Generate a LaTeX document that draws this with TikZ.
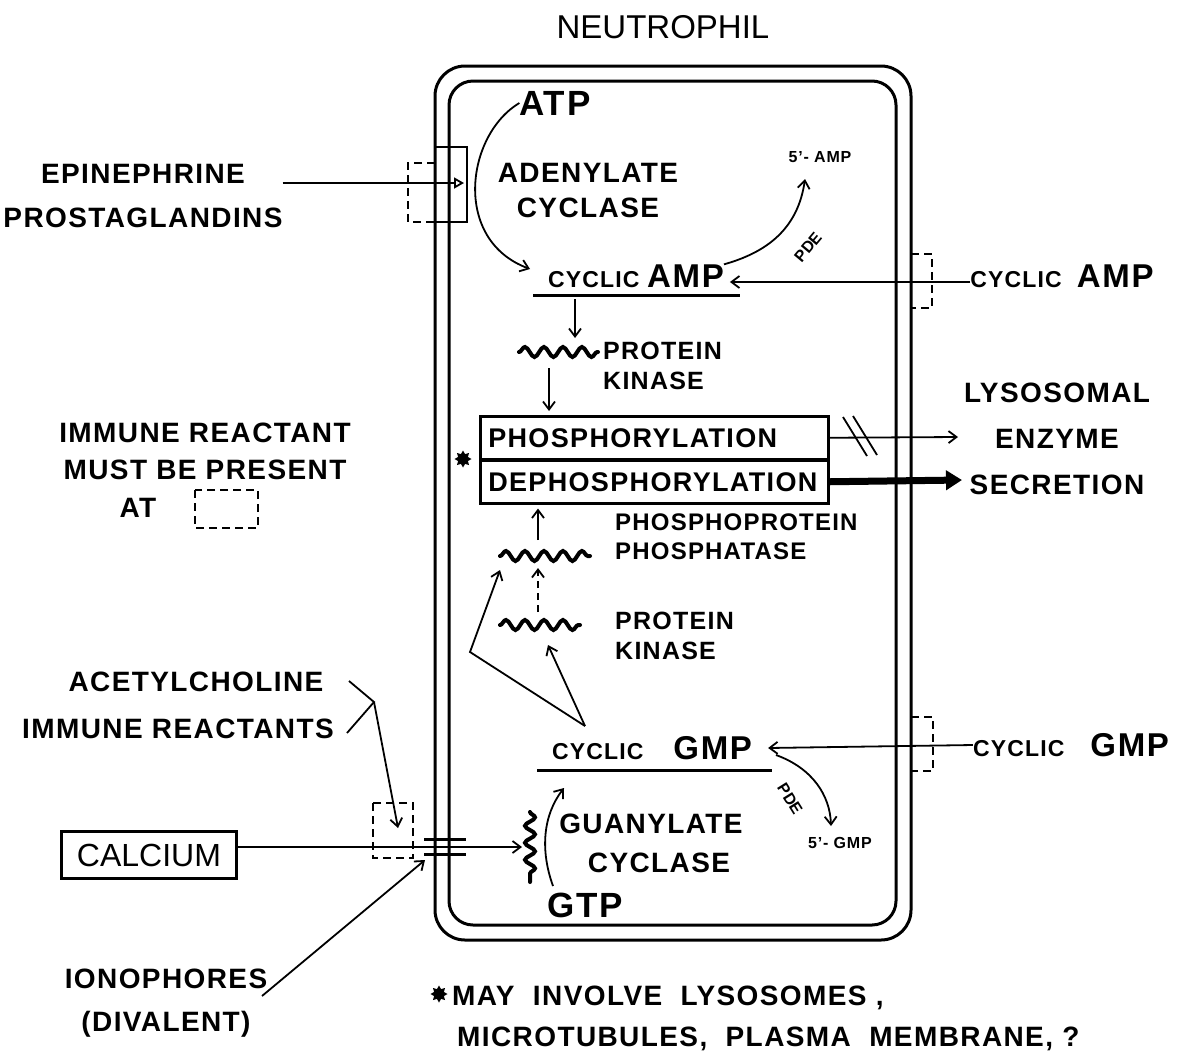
\documentclass[tikz,border=0pt]{standalone}
\usepackage{fontspec}
\setmainfont{Liberation Sans}[LetterSpace=5]
\newfontfamily\plainfont{Liberation Sans}
\usetikzlibrary{positioning,arrows.meta,decorations.pathmorphing,shapes.geometric}

\begin{document}
\begin{tikzpicture}[
    x=1pt, y=-1pt,
    >={Straight Barb[length=8pt,width=12pt]},
    lbl/.style={font=\bfseries\fontsize{28}{44}\selectfont, inner sep=0pt, align=center},
    lblmid/.style={font=\bfseries\fontsize{25}{30}\selectfont, inner sep=0pt, align=left},
    lblbig/.style={font=\bfseries\fontsize{35}{40}\selectfont, inner sep=0pt},
    lbltiny/.style={font=\bfseries\fontsize{16}{18}\selectfont, inner sep=0pt},
    boxrow/.style={draw, line width=2.5pt, minimum width=348pt, minimum height=43pt,
        text width=332pt, inner xsep=8pt, align=left,
        font=\bfseries\fontsize{27}{30}\selectfont},
    memb/.style={line width=3pt},
    conn/.style={line width=1.8pt, ->},
    site/.style={line width=2.5pt, dash pattern=on 8pt off 5pt},
    wave/.style={line width=4pt, line cap=round, decorate,
        decoration={snake, segment length=19pt, amplitude=5pt}},
    dotmark/.style={star, star points=8, star point ratio=1.6, fill,
        inner sep=0pt, minimum size=17pt}
]
\useasboundingbox (0,0) rectangle (1185,1053);

% cell membrane
\draw[memb, rounded corners=30pt] (435,66) rectangle (911,940);
\draw[memb, rounded corners=24pt] (449,81) rectangle (896,925);
\node[font=\plainfont\fontsize{33}{40}\selectfont, inner sep=0pt] (title) at (663,27) {NEUTROPHIL};

% receptor, adenylate cyclase
\node[lbl] (epi) at (143,196) {EPINEPHRINE\\PROSTAGLANDINS};
\draw[line width=2.5pt] (435,147) rectangle (467,222);
\draw[site] (435,163) -- (408,163) -- (408,222) -- (435,222);
\coordinate (rec) at (464,183);
\draw[line width=1.8pt, -{Triangle[open, length=10pt, width=11pt]}] (epi.east |- rec) -- (rec);

\node[lblbig] (atp) at (555,103) {ATP};
\node[lbl, font=\bfseries\fontsize{28}{35}\selectfont] (adcyc) at (588,190) {ADENYLATE\\CYCLASE};
\node[inner sep=0pt] (camp) at (636,276)
    {\bfseries\fontsize{23}{28}\selectfont CYCLIC\ \fontsize{33}{40}\selectfont AMP};
\draw[line width=3pt] (533,295) -- (740,295);
\coordinate (campin) at (530,269);
\draw[conn] (atp.west) .. controls (466,135) and (452,240) .. (campin);

\node[lbltiny] (amp5) at (820,157) {5'- AMP};
\coordinate (pdeA) at (805,179);
\draw[conn] (camp.north east) .. controls (768,252) and (798,228) .. (pdeA);
\node[font=\plainfont\bfseries\fontsize{16}{18}\selectfont, inner sep=0pt, rotate=50] (pdeAl) at (808,247) {PDE};

\node[inner sep=0pt] (campout) at (1062,276)
    {\bfseries\fontsize{23}{28}\selectfont CYCLIC\ \ \fontsize{33}{40}\selectfont AMP};
\draw[site] (911,254) -- (932,254) -- (932,308) -- (911,308);
\draw[conn] ([yshift=-6pt]campout.west) -- ([xshift=6pt,yshift=-6pt]camp.east);

% protein kinase
\coordinate (pk1a) at (519,352);
\coordinate (pk1b) at (598,352);
\draw[wave] (pk1a) -- (pk1b);
\node[lblmid, anchor=west] (pk1) at (603,366) {PROTEIN\\KINASE};
\coordinate (pk1top) at (575,299);
\coordinate (pk1in) at (575,338);
\draw[conn] (pk1top) -- (pk1in);
\coordinate (pk1out) at (549,368);

% phosphorylation
\node[boxrow, anchor=north west] (phos) at (479,415) {PHOSPHORYLATION};
\node[boxrow, anchor=north west] (dephos) at (479,459) {DEPHOSPHORYLATION};
\node[dotmark] (star1) at (463,459) {};
\draw[conn, shorten >=4pt] (pk1out) -- (pk1out |- phos.north);

\node[lbl, font=\bfseries\fontsize{28}{46}\selectfont] (lyso) at (1057,439) {LYSOSOMAL\\ENZYME\\SECRETION};
\coordinate (sec1) at (958,437);
\coordinate (sec2) at (962,480);
\draw[conn] (phos.east) -- (sec1);
\draw[line width=1.8pt] (843,417) -- (867,456) (853,416) -- (877,455);
\draw[line width=7pt, -{Triangle[length=16pt,width=19pt]}] (dephos.east) -- (sec2);

% phosphatase
\coordinate (ppa) at (500,556);
\coordinate (ppb) at (590,556);
\draw[wave] (ppa) -- (ppb);
\node[lblmid, font=\bfseries\fontsize{24}{29}\selectfont, anchor=west] (ppase) at (615,537) {PHOSPHOPROTEIN\\PHOSPHATASE};
\coordinate (ppup) at (538,540);
\draw[conn, shorten >=4pt] (ppup) -- (ppup |- dephos.south);

% second kinase
\coordinate (pk2a) at (500,625);
\coordinate (pk2b) at (580,625);
\draw[wave] (pk2a) -- (pk2b);
\node[lblmid, anchor=west] (pk2) at (615,636) {PROTEIN\\KINASE};
\coordinate (pk2up) at (538,612);
\coordinate (ppdown) at (538,568);
\draw[conn, dash pattern=on 7pt off 5pt] (pk2up) -- (ppdown);

% cyclic GMP
\node[inner sep=0pt] (cgmp) at (652,748)
    {\bfseries\fontsize{23}{28}\selectfont CYCLIC\hspace{30pt}\fontsize{33}{40}\selectfont GMP};
\draw[line width=3pt] (537,770) -- (772,770);
\coordinate (apex) at (585,726);
\coordinate (bend) at (470,652);
\coordinate (pk2in) at (548,645);
\coordinate (ppin) at (500,570);
\draw[conn] (apex) -- (pk2in);
\draw[conn] (apex) -- (bend) -- (ppin);

\node[inner sep=0pt] (cgmpout) at (1071,745)
    {\bfseries\fontsize{23}{28}\selectfont CYCLIC\hspace{26pt}\fontsize{33}{40}\selectfont GMP};
\draw[site] (911,717) -- (933,717) -- (933,771) -- (911,771);
\draw[conn] (cgmpout.west) -- ([xshift=16pt]cgmp.east);

\node[lbltiny] (gmp5) at (840,843) {5'- GMP};
\coordinate (pdeGs) at (776,755);
\coordinate (pdeG) at (831,826);
\draw[conn] (pdeGs) .. controls (812,768) and (830,795) .. (pdeG);
\node[font=\plainfont\bfseries\fontsize{16}{18}\selectfont, inner sep=0pt, rotate=-58] (pdeGl) at (790,799) {PDE};

% guanylate cyclase
\coordinate (gca) at (530,812);
\coordinate (gcb) at (530,882);
\draw[wave, decoration={snake, segment length=17pt, amplitude=5pt}] (gca) -- (gcb);
\node[lbl, font=\bfseries\fontsize{28}{39}\selectfont] (gcyc) at (651,843) {GUANYLATE\\\hspace*{16pt}CYCLASE};
\node[lblbig] (gtp) at (585,905) {GTP};
\coordinate (gtpout) at (553,886);
\coordinate (gtpin) at (564,788);
\draw[conn] (gtpout) .. controls (540,850) and (543,815) .. (gtpin);

% calcium entry
\node[draw, line width=3pt, font=\plainfont\fontsize{32}{36}\selectfont,
    minimum width=175pt, minimum height=47pt, inner sep=0pt] (calcium) at (149,855) {CALCIUM};
\coordinate (gcin) at (522,847);
\draw[conn] (calcium.east |- gcin) -- (gcin);
\draw[line width=3pt] (424,839) -- (466,839) (424,854) -- (466,854);
\draw[site] (373,803) rectangle (413,858);

\node[lbl] (acetyl) at (196,682) {ACETYLCHOLINE};
\node[lbl] (immune) at (178,729) {IMMUNE REACTANTS};
\coordinate (achend) at (349,681);
\coordinate (irend) at (347,733);
\coordinate (join) at (374,702);
\coordinate (casite) at (398,828);
\draw[line width=1.8pt] (achend) -- (join) -- (irend);
\draw[conn] (join) -- (casite);

\node[lbl, font=\bfseries\fontsize{28}{43}\selectfont] (iono) at (166,1003) {IONOPHORES\\(DIVALENT)};
\coordinate (ionoend) at (262,996);
\coordinate (ionoin) at (425,860);
\draw[conn] (ionoend) -- (ionoin);

% legend
\node[lbl, font=\bfseries\fontsize{28}{37}\selectfont] (legend) at (205,451) {IMMUNE REACTANT\\MUST BE PRESENT};
\node[lbl] (legat) at (138,508) {AT};
\draw[site] (195,490) rectangle (258,528);

% footnote
\node[dotmark] (star2) at (439,994) {};
\node[lbl, anchor=base west] (note1) at (452,1005) {MAY\ \ INVOLVE\ \ LYSOSOMES ,};
\node[lbl, anchor=base west] (note2) at (457,1046) {MICROTUBULES, \ PLASMA \ MEMBRANE, ?};
\end{tikzpicture}
\end{document}
